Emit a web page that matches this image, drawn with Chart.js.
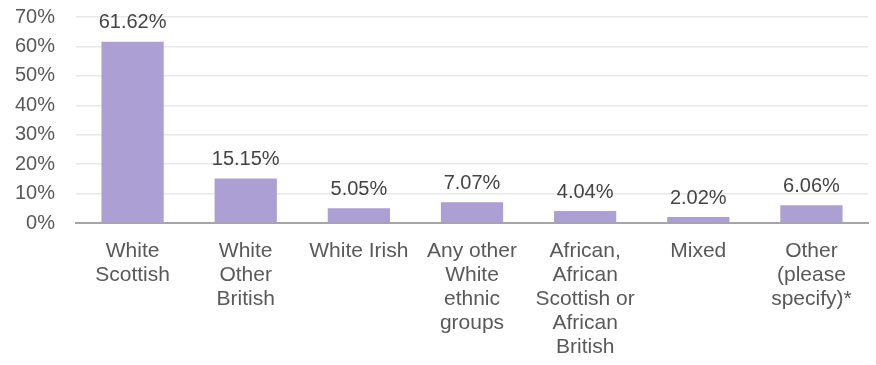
<!DOCTYPE html>
<html>
<head>
<meta charset="utf-8">
<script src="https://cdn.jsdelivr.net/npm/chart.js@4"></script>
<style>
  html, body { margin: 0; padding: 0; background: #fff; overflow: hidden; }
  #wrap { width: 876px; height: 381px; position: relative; margin-top: -16px; }
</style>
</head>
<body>
<div id="wrap"><canvas id="ethnicityChart"></canvas></div>
<script>
// Ethnicity breakdown of respondents (percent)
const categories = [
  ['White', 'Scottish'],
  ['White', 'Other', 'British'],
  ['White Irish'],
  ['Any other', 'White', 'ethnic', 'groups'],
  ['African,', 'African', 'Scottish or', 'African', 'British'],
  ['Mixed'],
  ['Other', '(please', 'specify)*']
];
const shares = [61.62, 15.15, 5.05, 7.07, 4.04, 2.02, 6.06];
const yTicks = [0, 10, 20, 30, 40, 50, 60, 70];

const FONT = 'Arial, "Liberation Sans", sans-serif';
const TEXT = '#595959';

// draws the percentage above each bar
const valueLabels = {
  id: 'valueLabels',
  afterDatasetsDraw(chart) {
    const ctx = chart.ctx;
    const meta = chart.getDatasetMeta(0);
    ctx.save();
    ctx.font = '20px ' + FONT;
    ctx.fillStyle = '#444';
    ctx.textAlign = 'center';
    ctx.textBaseline = 'bottom';
    meta.data.forEach(function(bar, i) {
      ctx.fillText(shares[i].toFixed(2) + '%', bar.x, bar.y - 9);
    });
    ctx.restore();
  }
};

const ctx = document.getElementById('ethnicityChart').getContext('2d');
const ethnicityChart = new Chart(ctx, {
  type: 'bar',
  data: {
    labels: categories,
    datasets: [{
      data: shares,
      backgroundColor: '#ab9fd4',
      categoryPercentage: 1,
      barPercentage: 0.55
    }]
  },
  options: {
    responsive: true,
    maintainAspectRatio: false,
    animation: false,
    layout: { padding: { left: 0, right: 8, top: 0, bottom: 0 } },
    plugins: {
      legend: { display: false },
      tooltip: { enabled: false }
    },
    scales: {
      x: {
        grid: { display: false, drawTicks: false },
        border: { color: '#a6a6a6', width: 2 },
        ticks: {
          color: TEXT,
          font: { family: FONT, size: 21, lineHeight: 1.15 },
          padding: 16,
          maxRotation: 0,
          autoSkip: false
        },
        afterFit(scale) { scale.height = 142; }
      },
      y: {
        min: 0,
        max: 70,
        afterBuildTicks(scale) { scale.ticks = yTicks.map(v => ({ value: v })); },
        grid: { color: '#e8e8e8', lineWidth: 1.5, drawTicks: false },
        border: { display: false },
        ticks: {
          color: TEXT,
          font: { family: FONT, size: 20 },
          padding: 21,
          callback: v => v + '%'
        },
        afterFit(scale) { scale.width = 76; }
      }
    }
  },
  plugins: [valueLabels]
});
</script>
</body>
</html>
